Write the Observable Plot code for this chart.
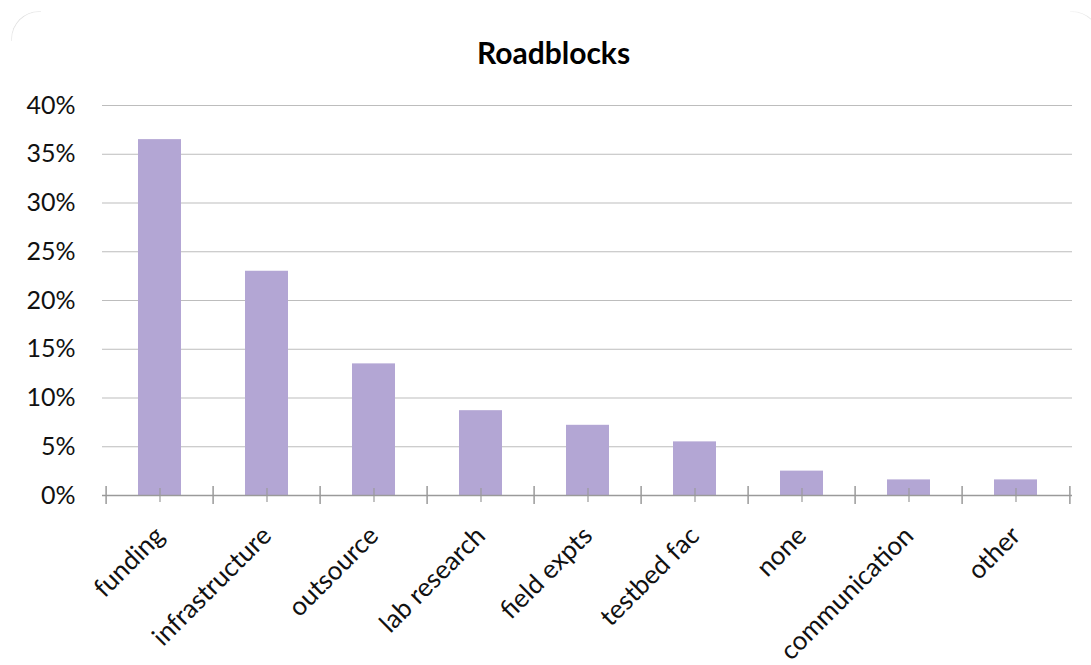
<!DOCTYPE html>
<html>
<head>
<meta charset="utf-8">
<script src="https://cdn.jsdelivr.net/npm/d3@7"></script>
<script src="https://cdn.jsdelivr.net/npm/@observablehq/plot@0.6"></script>
<style>
  html, body { margin: 0; padding: 0; background: #fff; }
  #wrap { position: relative; width: 1091px; height: 665px; overflow: hidden; font-family: Lato, "Open Sans", sans-serif; }
  .corner { position: absolute; top: 11px; width: 30px; height: 30px; box-sizing: border-box; pointer-events: none; border-top: 1px solid #e2e2e2; }
  #cornerL { left: 11px; border-left: 1px solid #e2e2e2; border-top-left-radius: 28px; -webkit-mask-image: linear-gradient(135deg, #000 30%, transparent 75%); mask-image: linear-gradient(135deg, #000 30%, transparent 75%); }
  #cornerR { left: 1070px; border-right: 1px solid #e2e2e2; border-top-right-radius: 28px; -webkit-mask-image: linear-gradient(225deg, #000 20%, transparent 60%); mask-image: linear-gradient(225deg, #000 20%, transparent 60%); }
  #title { position: absolute; left: 0; top: 0; width: 1107px; height: 80px; text-align: center; font-weight: bold; font-size: 30px; line-height: 104px; color: #000; }
  #chart { position: absolute; left: 0; top: 80px; }
</style>
</head>
<body>
<div id="wrap">
  <div class="corner" id="cornerL"></div>
  <div class="corner" id="cornerR"></div>
  <div id="title">Roadblocks</div>
  <div id="chart"></div>
</div>
<script>
const categories = ["funding", "infrastructure", "outsource", "lab research", "field expts", "testbed fac", "none", "communication", "other"];
const values = [36.5, 23.0, 13.5, 8.7, 7.2, 5.5, 2.5, 1.6, 1.6];
const yTicks = [0, 5, 10, 15, 20, 25, 30, 35, 40];

const data = categories.map((c, i) => ({category: c, value: values[i]}));

const W = 1091, H = 585, ml = 102, mr = 19, mt = 25, mb = 170;
const step = (W - ml - mr) / categories.length;

const chart = Plot.plot({
  width: W,
  height: H,
  marginLeft: ml,
  marginRight: mr,
  marginTop: mt,
  marginBottom: mb,
  style: {fontFamily: "Lato, 'Open Sans', sans-serif", background: "transparent"},
  x: {domain: categories, paddingInner: 0.6, paddingOuter: 0.3, axis: null},
  y: {domain: [0, 40], axis: null},
  marks: [
    Plot.ruleY(yTicks.filter(d => d > 0), {y: d => d, stroke: "#bdbdbd", strokeWidth: 1}),
    Plot.barY(data, {x: "category", y: "value", fill: "#b3a6d4"}),
    Plot.ruleY([0], {stroke: "#9a9a9a", strokeWidth: 1.5}),
    // boundary ticks
    Plot.ruleX(categories, {x: d => d, y1: 0, y2: 0, dx: -step / 2, insetTop: -9, insetBottom: -9, stroke: "#9a9a9a", strokeWidth: 1.5}),
    Plot.ruleX(categories.slice(-1), {x: d => d, y1: 0, y2: 0, dx: step / 2, insetTop: -9, insetBottom: -9, stroke: "#9a9a9a", strokeWidth: 1.5}),
    // center ticks
    Plot.ruleX(categories, {x: d => d, y1: 0, y2: 0, insetTop: -7, insetBottom: -7, stroke: "#9a9a9a", strokeWidth: 1.2}),
    // y tick labels
    Plot.text(yTicks, {y: d => d, text: d => d + "%", frameAnchor: "left", textAnchor: "end", dx: -27, fontSize: 25, fill: "#111"}),
    // x labels
    Plot.text(categories, {x: d => d, y: () => 0, text: d => d, rotate: -45, textAnchor: "end", lineAnchor: "middle", dx: 0, dy: 36, fontSize: 26, fill: "#111"})
  ]
});
document.getElementById("chart").appendChild(chart);
</script>
</body>
</html>
